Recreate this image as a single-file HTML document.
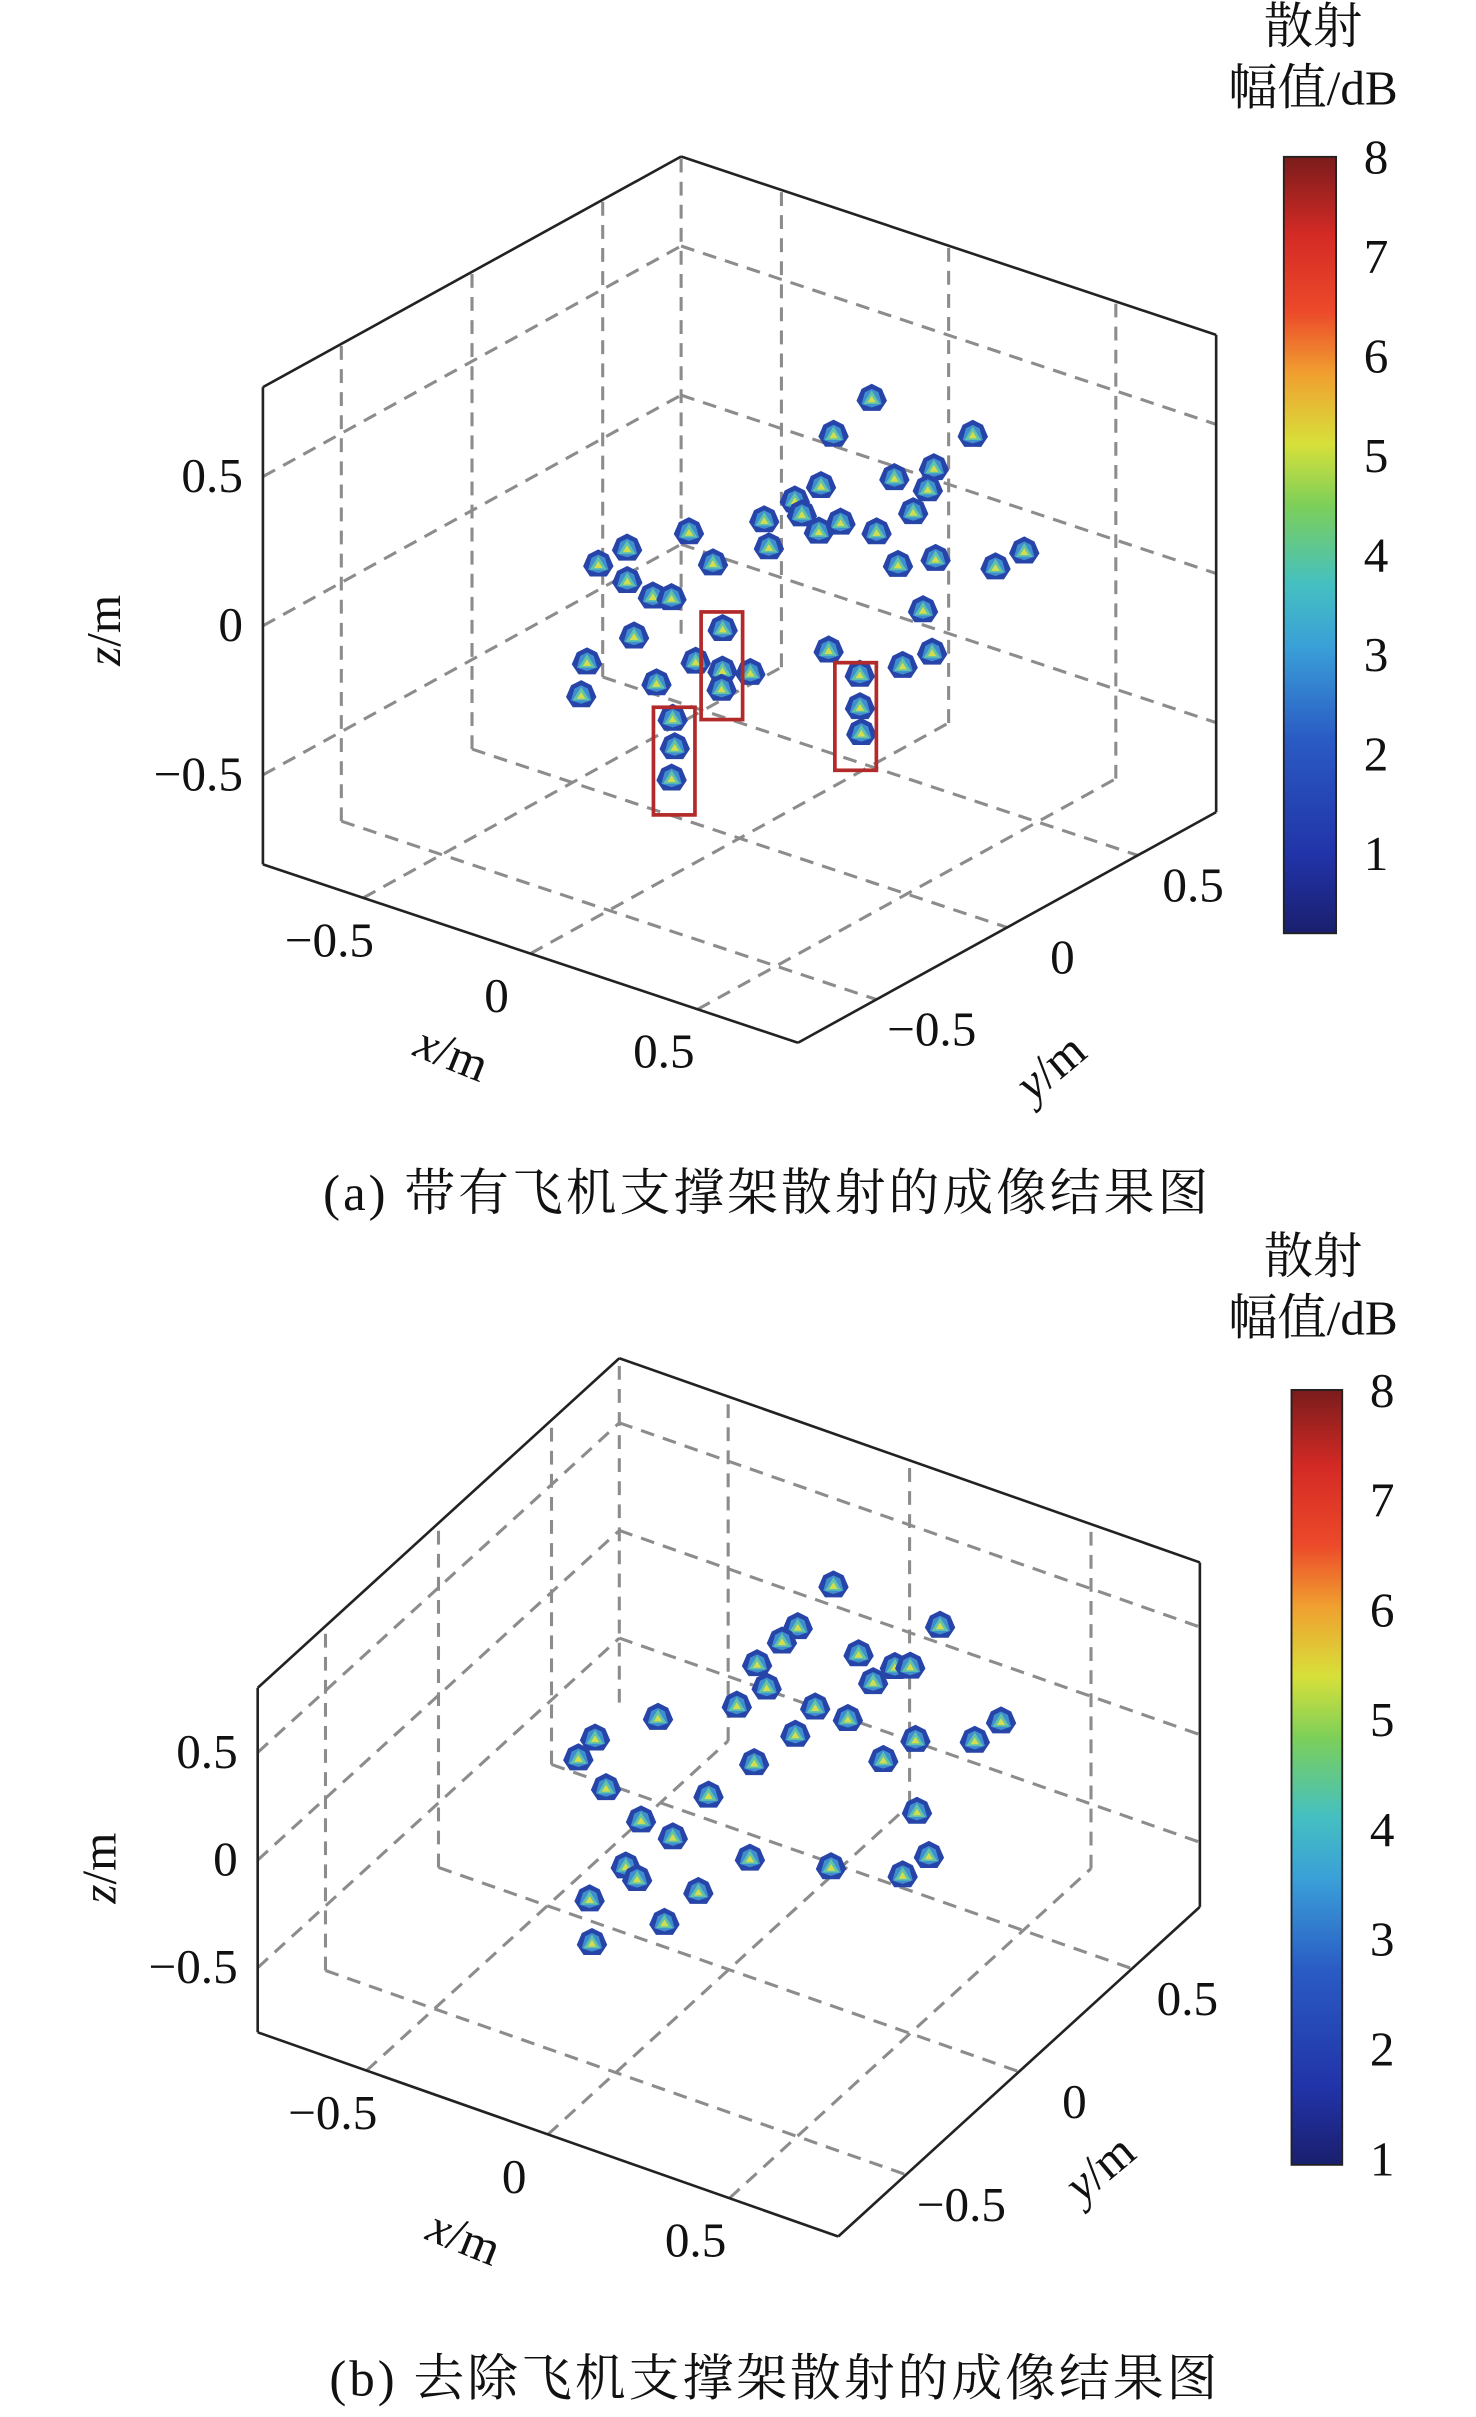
<!DOCTYPE html>
<html><head><meta charset="utf-8"><style>
html,body{margin:0;padding:0;background:#fff;}
svg{display:block;}
text{font-family:"Liberation Serif","Noto Serif CJK SC","Noto Sans CJK SC",serif;fill:#111;}
</style></head><body>
<svg id="fig" width="1476" height="2417" viewBox="0 0 960 1572" preserveAspectRatio="none" xmlns="http://www.w3.org/2000/svg">
<defs>
<linearGradient id="jet" x1="0" y1="1" x2="0" y2="0">
<stop offset="0" stop-color="#1a1f6e"/><stop offset="0.1" stop-color="#2133a8"/><stop offset="0.25" stop-color="#2a5bc4"/>
<stop offset="0.37" stop-color="#3aa0d8"/><stop offset="0.45" stop-color="#45c0c0"/><stop offset="0.55" stop-color="#7ccf5a"/>
<stop offset="0.63" stop-color="#d7e03a"/><stop offset="0.72" stop-color="#f0a030"/><stop offset="0.8" stop-color="#ec4a2a"/>
<stop offset="0.9" stop-color="#d42a25"/><stop offset="1" stop-color="#7a1c1c"/>
</linearGradient>
</defs>
<g id="chartA"></g>
<g id="chartB"></g>
<text x="499" y="787" text-anchor="middle" font-size="33" letter-spacing="2">(a) 带有飞机支撑架散射的成像结果图</text>
<text x="504" y="1558" text-anchor="middle" font-size="33" letter-spacing="2">(b) 去除飞机支撑架散射的成像结果图</text>
</svg>
<script>
// Chart A data (3D scatter positions, m)
const aX = [-0.23,-0.18,0.08,0.12,0.08,0.18,-0.03,-0.03,0.03,-0.02,0.13,0.23,0.23,0.12,-0.12,-0.18,-0.18,0.03,0.08,0.38,0.43,0.57,0.57,-0.07,0.03,0.07,0.58,0.13,0.27,0.54,0.74,0.73,0.33,0.13,0.23,0.33,0.47,0.41,0.47,0.68,0.79,0.88,0.48,0.58,0.68];
const aY = [0.80,0.59,0.79,0.59,0.49,0.49,0.35,0.25,0.20,0.12,0.22,0.37,0.23,0.15,-0.04,-0.20,-0.31,-0.14,0.01,0.12,0.20,0.36,0.25,-0.34,-0.37,-0.35,-0.04,-0.57,-0.41,-0.35,-0.21,-0.31,-0.59,-0.75,-0.90,-0.74,-0.56,-0.59,-0.67,-0.41,-0.55,-0.66,-0.87,-0.99,-1.13];
const aZ = new Array(aX.length).fill(0.2);
// Chart B data
const bX = [-0.16,-0.14,-0.14,0.14,-0.14,0.04,0.14,0.17,0.13,-0.07,-0.22,-0.09,0.07,0.16,0.09,0.47,0.46,0.34,0.32,-0.30,-0.29,0.07,-0.17,0.05,-0.03,0.07,0.50,0.27,0.45,0.62,0.61,0.04,0.09,0.24,0.04,0.24,0.14];
const bY = [0.72,0.53,0.46,0.71,0.35,0.51,0.51,0.53,0.43,0.28,0.04,0.18,0.27,0.27,0.15,0.45,0.35,0.28,0.17,-0.11,-0.20,0.00,-0.27,-0.17,-0.34,-0.36,0.03,-0.34,-0.27,-0.11,-0.21,-0.52,-0.55,-0.52,-0.68,-0.67,-0.83];
const bZ = new Array(bX.length).fill(0.2);
const ticks = [-0.5, 0, 0.5];
const tickLabels = ["\u22120.5", "0", "0.5"];
const cbTicks = [1,2,3,4,5,6,7,8];

const NS = "http://www.w3.org/2000/svg";
function mk(parent, tag, attrs, txt){
  const e = document.createElementNS(NS, tag);
  for (const k in attrs) e.setAttribute(k, attrs[k]);
  if (txt !== undefined) e.textContent = txt;
  parent.appendChild(e);
  return e;
}
const R = 0.8;
function drawChart(g, cfg, X, Y, Z, tag){
  const P = (x,y,z)=>[cfg.ox + x*cfg.ex[0] + y*cfg.ey[0], cfg.oy + x*cfg.ex[1] + y*cfg.ey[1] - z*cfg.ez];
  const line = (a,b,dash,name)=>{
    const l = mk(g,'line',{x1:a[0],y1:a[1],x2:b[0],y2:b[1],stroke:dash?'#8c8c8c':'#222','stroke-width':dash?2:1.7,'stroke-dasharray':dash?'9 6':'none'});
    
    
  };
  ticks.forEach(t=>{
    line(P(t,-R,-R),P(t,R,-R),true,'floor-grid-x');
    line(P(-R,t,-R),P(R,t,-R),true,'floor-grid-y');
    line(P(-R,t,-R),P(-R,t,R),true,'left-wall-grid-y');
    line(P(-R,-R,t),P(-R,R,t),true,'left-wall-grid-z');
    line(P(t,R,-R),P(t,R,R),true,'back-wall-grid-x');
    line(P(-R,R,t),P(R,R,t),true,'back-wall-grid-z');
  });
  line(P(-R,R,-R),P(-R,R,R),true,'back-edge');
  line(P(-R,-R,-R),P(-R,-R,R),false,'z-axis-line');
  line(P(-R,-R,-R),P(R,-R,-R),false,'x-axis-line');
  line(P(R,-R,-R),P(R,R,-R),false,'y-axis-line');
  line(P(R,R,-R),P(R,R,R),false,'right-edge');
  line(P(-R,-R,R),P(-R,R,R),false,'top-left-edge');
  line(P(-R,R,R),P(R,R,R),false,'top-right-edge');
  ticks.forEach((t,i)=>{
    let p = P(-R,-R,t);
    let e = mk(g,'text',{x:p[0]-13,y:p[1]+10,'text-anchor':'end','font-size':32},tickLabels[i]);
     
    p = P(t,-R,-R);
    e = mk(g,'text',{x:p[0]-22,y:p[1]+38,'text-anchor':'middle','font-size':32},tickLabels[i]);
     
    p = P(R,t,-R);
    e = mk(g,'text',{x:p[0]+36,y:p[1]+30,'text-anchor':'middle','font-size':32},tickLabels[i]);
     
  });
  let e = mk(g,'text',{x:0,y:0,'font-size':32,transform:`translate(${cfg.zl[0]},${cfg.zl[1]}) rotate(-90)`,'text-anchor':'middle'});
  e.innerHTML = '<tspan font-style="italic">z</tspan>/m';
   
  e = mk(g,'text',{x:0,y:0,'font-size':32,transform:`translate(${cfg.xl[0]},${cfg.xl[1]}) rotate(22)`,'text-anchor':'middle'});
  e.innerHTML = '<tspan font-style="italic">x</tspan>/m';
   
  e = mk(g,'text',{x:0,y:0,'font-size':32,transform:`translate(${cfg.yl[0]},${cfg.yl[1]}) rotate(-40)`,'text-anchor':'middle'});
  e.innerHTML = '<tspan font-style="italic">y</tspan>/m';
   
  X.forEach((x,i)=>{
    const p = P(x, Y[i], Z[i]);
    const pg = mk(g,'g',{transform:`translate(${p[0]},${p[1]}) scale(1.1)`});
    
    
    mk(pg,'polygon',{points:'-9,1 -6,-6 0,-9 6,-6 9,1 5,7 -5,7',fill:'#2744a8'});
    mk(pg,'polygon',{points:'-6,3 -4,-4 0,-6 4,-4 6,3 0,5',fill:'#3f8fd0'});
    mk(pg,'polygon',{points:'-5,3 0,-5 5,3',fill:'#62c3a8'});
    mk(pg,'polygon',{points:'-2.5,2 0,-2 2.5,2',fill:'#d2dd50'});
  });
  const cb = cfg.cb;
  const r = mk(g,'rect',{x:cb.x,y:cb.top,width:cb.w,height:cb.bot-cb.top,fill:'url(#jet)',stroke:'#222','stroke-width':1.2});
   
  const vy = v => cb.y8 + (8 - v) * cb.step;
  cbTicks.forEach(v=>{
    const t = mk(g,'text',{x:cb.x+cb.w+18,y:vy(v)+11,'font-size':32},String(v));
     
  });
  let t = mk(g,'text',{x:854,y:cb.ty,'text-anchor':'middle','font-size':32},'散射');
   
  t = mk(g,'text',{x:854,y:cb.ty+40,'text-anchor':'middle','font-size':32},'幅值/dB');
   
}
const gA = document.getElementById('chartA');
drawChart(gA,{ox:481,oy:390,ex:[217.5,72.5],ey:[170,-93.75],ez:194,zl:[78,410],xl:[290,695],yl:[690,702],
  cb:{x:835,w:34,top:102,bot:607,y8:102,step:64.7,ty:28}}, aX,aY,aZ,'a');
[[425,460,27,70],[456,398,27,70],[543,431,27,70]].forEach(b=>{
  const r = mk(gA,'rect',{x:b[0],y:b[1],width:b[2],height:b[3],fill:'none',stroke:'#b22a2a','stroke-width':2.4});
  
  
});
const gB = document.getElementById('chartB');
drawChart(gB,{ox:474,oy:1169,ex:[236,83],ey:[147,-134],ez:140,zl:[75,1215],xl:[298,1465],yl:[722,1418],
  cb:{x:840,w:33,top:904,bot:1408,y8:904,step:71.4,ty:828}}, bX,bY,bZ,'b');
</script>
</body></html>
